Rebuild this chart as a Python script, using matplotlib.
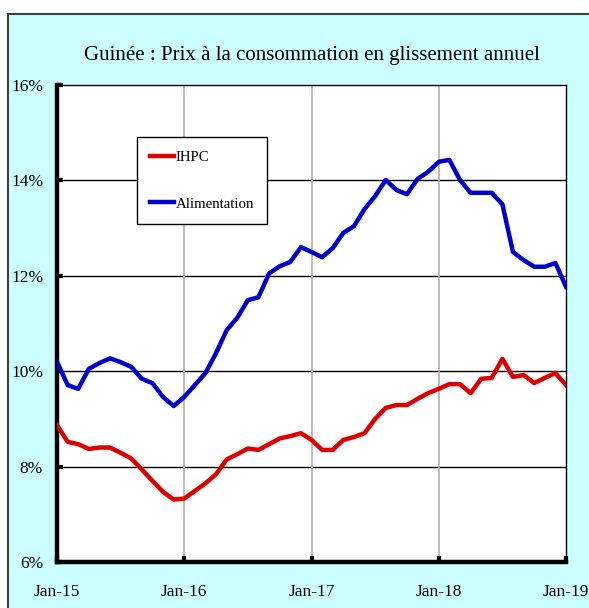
import matplotlib
matplotlib.use("Agg")
import matplotlib.pyplot as plt
from matplotlib.patches import Rectangle

# monthly series, Jan-15 .. Jan-19 (49 months), year-on-year %
ihpc = [8.87, 8.52, 8.47, 8.37, 8.40, 8.40, 8.29, 8.17, 7.94, 7.70, 7.47, 7.31,
        7.33, 7.49, 7.65, 7.84, 8.15, 8.26, 8.38, 8.35, 8.47, 8.59, 8.64, 8.70,
        8.56, 8.35, 8.35, 8.56, 8.62, 8.70, 9.00, 9.23, 9.29, 9.29, 9.42, 9.54,
        9.63, 9.73, 9.73, 9.54, 9.84, 9.86, 10.26, 9.88, 9.92, 9.75, 9.86, 9.96,
        9.71]
alimentation = [10.20, 9.71, 9.63, 10.05, 10.17, 10.27, 10.19, 10.09, 9.84, 9.75, 9.46, 9.27,
                9.46, 9.71, 9.96, 10.38, 10.86, 11.12, 11.49, 11.55, 12.05, 12.20, 12.29, 12.60,
                12.50, 12.39, 12.58, 12.90, 13.04, 13.40, 13.67, 14.01, 13.80, 13.71, 14.03, 14.18,
                14.39, 14.43, 14.01, 13.74, 13.74, 13.74, 13.50, 12.50, 12.33, 12.19, 12.19, 12.27,
                11.77]
tick_labels = ["Jan-15", "Jan-16", "Jan-17", "Jan-18", "Jan-19"]
y_ticks = [6, 8, 10, 12, 14, 16]

plt.rcParams["font.family"] = ["Liberation Serif", "DejaVu Serif"]

fig = plt.figure(figsize=(5.89, 6.08), dpi=100, facecolor="white")
frame = Rectangle((8 / 589, -0.05), 1.0, (608 - 14) / 608 + 0.05,
                  transform=fig.transFigure, facecolor="#CCFFFF",
                  edgecolor="#404040", linewidth=1.5, zorder=-1)
fig.patches.append(frame)

ax = fig.add_axes([57 / 589, 1 - 562 / 608, (566 - 57) / 589, (562 - 85) / 608])
ax.set_facecolor("white")

months = list(range(len(ihpc)))
ax.plot(months, ihpc, color="#DD0000", lw=3.2, label="IHPC", zorder=3)
ax.plot(months, alimentation, color="#0000CC", lw=3.2, label="Alimentation", zorder=3)

ax.set_xlim(0, 48)
ax.set_ylim(6, 16)
ax.set_xticks([0, 12, 24, 36, 48])
ax.set_xticklabels(tick_labels)
ax.set_yticks(y_ticks)
ax.set_yticklabels([f"{v}%" for v in y_ticks])

for v in y_ticks[1:-1]:
    ax.axhline(v, color="black", lw=1.0, zorder=1)
for m in (12, 24, 36):
    ax.axvline(m, color="#B0B0B0", lw=1.2, zorder=1)

for side in ("left", "bottom"):
    ax.spines[side].set_linewidth(3.2)
for side in ("top", "right"):
    ax.spines[side].set_linewidth(1.0)

ax.tick_params(axis="both", direction="in", length=4, width=3, labelsize=12.5)
ax.tick_params(axis="x", pad=16)
ax.tick_params(axis="y", pad=10)

ax.set_title("Guinée : Prix à la consommation en glissement annuel",
             fontsize=15, pad=18)

leg = ax.legend(loc="upper left", bbox_to_anchor=(0.157, 0.891), borderaxespad=0,
                fontsize=10.7, handlelength=1.6, handletextpad=0.1, labelspacing=2.25,
                borderpad=0.9, fancybox=False, framealpha=1, edgecolor="black")
leg.get_frame().set_linewidth(1.0)

fig.savefig("out.png", dpi=100)
